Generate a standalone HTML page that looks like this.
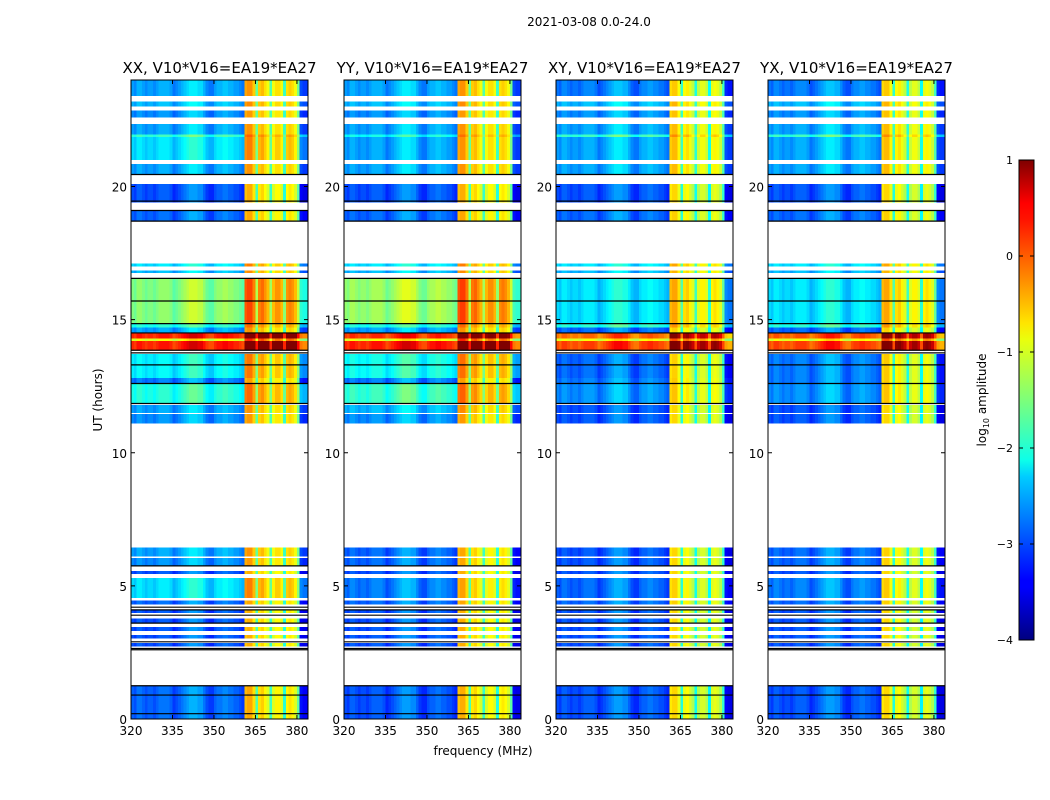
<!DOCTYPE html>
<html><head><meta charset="utf-8">
<style>
body{margin:0;background:#fff;}
svg{display:block;font-family:"DejaVu Sans","Liberation Sans",sans-serif;}
</style></head>
<body>
<svg id="fig" width="1050" height="800">
<defs>
<linearGradient id="jet" x1="0" y1="1" x2="0" y2="0">
<stop offset="0" stop-color="#00007f"/><stop offset="0.11" stop-color="#0000ff"/>
<stop offset="0.125" stop-color="#0000ff"/><stop offset="0.34" stop-color="#00ccff"/>
<stop offset="0.375" stop-color="#0dffe9"/><stop offset="0.5" stop-color="#7dff7a"/>
<stop offset="0.625" stop-color="#e9ff0d"/><stop offset="0.66" stop-color="#ffe500"/>
<stop offset="0.875" stop-color="#ff1400"/><stop offset="0.91" stop-color="#ff0000"/>
<stop offset="1" stop-color="#7f0000"/>
</linearGradient>
</defs>
<text x="589" y="26" font-size="12" text-anchor="middle">2021-03-08 0.0-24.0</text>
<text x="483" y="755" font-size="12" text-anchor="middle">frequency (MHz)</text>
<text transform="translate(102,400) rotate(-90)" font-size="12" text-anchor="middle">UT (hours)</text>
<g id="panels"></g>
<g id="cbar">
<rect x="1019" y="160" width="15" height="480" fill="url(#jet)" stroke="#000" stroke-width="1"/>
<text transform="translate(986,400) rotate(-90)" font-size="12" text-anchor="middle">log<tspan font-size="8" dy="3">10</tspan><tspan dy="-3"> amplitude</tspan></text>
</g>
</svg>
<script>
// ---- data ----
const panelTitles = ["XX, V10*V16=EA19*EA27","YY, V10*V16=EA19*EA27","XY, V10*V16=EA19*EA27","YX, V10*V16=EA19*EA27"];
const xTicks = [320,335,350,365,380];
const yTicks = [0,5,10,15,20];
const cbarTicks = [1,0,-1,-2,-3,-4];
const chanFreqs = [320,321,322,323,324,325,326,327,328,329,330,331,332,333,334,335,336,337,338,339,340,341,342,343,344,345,346,347,348,349,350,351,352,353,354,355,356,357,358,359,360,361,362,363,364,365,366,367,368,369,370,371,372,373,374,375,376,377,378,379,380,381,382,383];
const chanOffset = [0,-0.1,0.1,0.1,0,-0.1,0,0,-0.1,0,0.1,0.1,0.1,0.1,0,-0.2,-0.1,0,0.1,0.2,0.3,0.4,0.4,0.4,0.3,0.3,0.1,-0.1,-0.2,-0.2,0,0.1,0.1,0.2,0.2,0.1,0.1,0,0,-0.1,-0.2,0,0,0,0,0,0,0,0,0,0,0,0,0,0,0,0,0,0,0,0,-0.4,-0.5,-0.5];
const rfiLevel = [-99,-99,-99,-99,-99,-99,-99,-99,-99,-99,-99,-99,-99,-99,-99,-99,-99,-99,-99,-99,-99,-99,-99,-99,-99,-99,-99,-99,-99,-99,-99,-99,-99,-99,-99,-99,-99,-99,-99,-99,-99,-0.4,-0.3,-0.3,-0.6,-1.6,-0.6,-0.5,-0.7,-0.9,-1.7,-0.9,-0.7,-0.7,-0.9,-1.8,-0.7,-0.6,-0.7,-0.9,-1.5,-99,-99,-99];
const panelRfiShift = [0,0,-0.2,-0.2];
const bandStart = [23.4,23.0,22.6,21.95,21.85,21.0,20.45,19.4,18.7,17.0,16.75,14.85,14.7,14.5,14.3,14.2,13.85,12.8,12.6,11.85,11.5,11.1,6.1,5.75,5.45,4.55,4.3,3.98,3.62,3.3,3.02,2.72,0];
const bandEnd   = [24,23.2,22.85,22.35,21.95,21.85,20.85,20.1,19.1,17.1,16.85,16.55,14.85,14.7,14.5,14.3,14.2,13.7,12.8,12.6,11.8,11.45,6.45,6.05,5.55,5.3,4.45,4.12,3.78,3.46,3.16,2.86,1.25];
const levelXX = [-2.6,-2.5,-2.7,-2.6,-1.9,-2.3,-2.6,-3.0,-2.9,-2.3,-2.5,-1.5,-2.0,-2.6,0.2,-1.0,0.2,-2.2,-2.8,-2.0,-2.6,-2.7,-2.6,-2.7,-3.0,-2.3,-2.9,-3.0,-3.0,-3.0,-3.0,-3.0,-2.9];
const levelYY = [-2.6,-2.5,-2.7,-2.6,-2.1,-2.6,-2.6,-3.0,-2.9,-2.3,-2.5,-1.4,-2.0,-2.6,0.1,-1.0,0.2,-2.1,-2.8,-1.9,-2.5,-2.7,-2.9,-2.9,-3.0,-2.8,-2.9,-3.0,-3.0,-3.0,-3.0,-3.0,-3.0];
const levelXY = [-2.8,-2.5,-2.7,-2.6,-1.9,-2.6,-2.6,-3.0,-2.9,-2.3,-2.5,-2.3,-2.0,-2.9,-0.2,-1.0,0.0,-2.9,-2.8,-2.7,-3.0,-3.0,-3.0,-3.0,-3.0,-2.9,-2.9,-3.0,-3.0,-3.0,-3.0,-3.0,-3.0];
const levelYX = [-2.8,-2.5,-2.7,-2.6,-1.9,-2.6,-2.6,-3.0,-2.9,-2.3,-2.5,-2.3,-2.0,-2.9,-0.1,-1.0,0.0,-2.8,-2.8,-2.7,-3.0,-3.0,-2.9,-2.9,-3.0,-2.8,-2.9,-3.0,-3.0,-3.0,-3.0,-3.0,-3.0];
const flagLines = [20.45,19.45,19.1,18.7,16.55,15.7,14.85,14.5,13.85,13.75,13.3,12.6,11.85,5.75,4.2,4.1,3.9,3.6,2.9,2.65,2.6,1.25,0.9,0.2];
// ---- layout ----
const panelX = [131,344,556,768];
const PW = 177, PY0 = 80, PY1 = 719;
const levels = [levelXX,levelYY,levelXY,levelYX];
const NS = "http://www.w3.org/2000/svg";
function xs(px0,f){return px0 + (f-320)/64*PW;}
function ys(t){return PY1 - t/24*(PY1-PY0);}
function cy(v){return 640 - (v+4)/5*480;}
function jet(v){
  let t=Math.max(0,Math.min(1,(v+4)/5));
  function c(x){return Math.max(0,Math.min(1,x));}
  let r=c(Math.min(4*t-1.5,-4*t+4.5)), g=c(Math.min(4*t-0.5,-4*t+3.5)), b=c(Math.min(4*t+0.5,-4*t+2.5));
  return "rgb("+Math.round(r*255)+","+Math.round(g*255)+","+Math.round(b*255)+")";
}
function mk(tag,attrs,parent){const e=document.createElementNS(NS,tag);for(const k in attrs)e.setAttribute(k,attrs[k]);parent.appendChild(e);return e;}
const root=document.getElementById("panels");
panelX.forEach((px0,p)=>{
  const g=mk("g",{},root);
  
  
  const hm=mk("g",{"shape-rendering":"crispEdges"},g);
  
  
  for(let b=0;b<bandStart.length;b++){
    const y0=ys(bandEnd[b]), y1=ys(bandStart[b]);
    const base=levels[p][b];
    for(let c=0;c<chanFreqs.length;c++){
      const x0=xs(px0,chanFreqs[c]), x1=xs(px0,chanFreqs[c]+1);
      let v=base+chanOffset[c];
      if(rfiLevel[c]>-50) v=Math.max(v, rfiLevel[c]+(base>-1?0.7:0.35)*(base+2.5)+panelRfiShift[p]);
      const r=mk("rect",{x:x0.toFixed(2),y:y0.toFixed(2),width:(x1-x0+0.4).toFixed(2),height:(y1-y0).toFixed(2),fill:jet(v)},hm);
      
      
    }
  }
  flagLines.forEach(t=>{
    const l=mk("line",{x1:px0,x2:px0+PW,y1:ys(t),y2:ys(t),stroke:"#000","stroke-width":1.2},g);
    
    
  });
  const fr=mk("rect",{x:px0,y:PY0,width:PW,height:PY1-PY0,fill:"none",stroke:"#000","stroke-width":1},g);
  
  
  const tt=mk("text",{x:px0+PW/2,y:73,"font-size":15,"text-anchor":"middle"},g);
  tt.textContent=panelTitles[p];
  
  
  xTicks.forEach(v=>{
    const x=xs(px0,v);
    mk("line",{x1:x,x2:x,y1:PY1,y2:PY1-4,stroke:"#000"},g);
    mk("line",{x1:x,x2:x,y1:PY0,y2:PY0+4,stroke:"#000"},g);
    const t=mk("text",{x:x,y:PY1+16,"font-size":12,"text-anchor":"middle"},g);
    t.textContent=v;
    
    
  });
  yTicks.forEach(v=>{
    const y=ys(v);
    mk("line",{x1:px0,x2:px0+4,y1:y,y2:y,stroke:"#000"},g);
    mk("line",{x1:px0+PW,x2:px0+PW-4,y1:y,y2:y,stroke:"#000"},g);
    const t=mk("text",{x:px0-4,y:y+5,"font-size":12,"text-anchor":"end"},g);
    t.textContent=v;
    
    
  });
});
const cb=document.getElementById("cbar");
cbarTicks.forEach(v=>{
  const y=cy(v);
  mk("line",{x1:1019,x2:1023,y1:y,y2:y,stroke:"#000"},cb);
  mk("line",{x1:1034,x2:1030,y1:y,y2:y,stroke:"#000"},cb);
  const t=mk("text",{x:1013,y:y+4,"font-size":11,"text-anchor":"end"},cb);
  t.textContent=(v<0?"\u2212"+(-v):""+v);
  
  
});
</script>
</body></html>
